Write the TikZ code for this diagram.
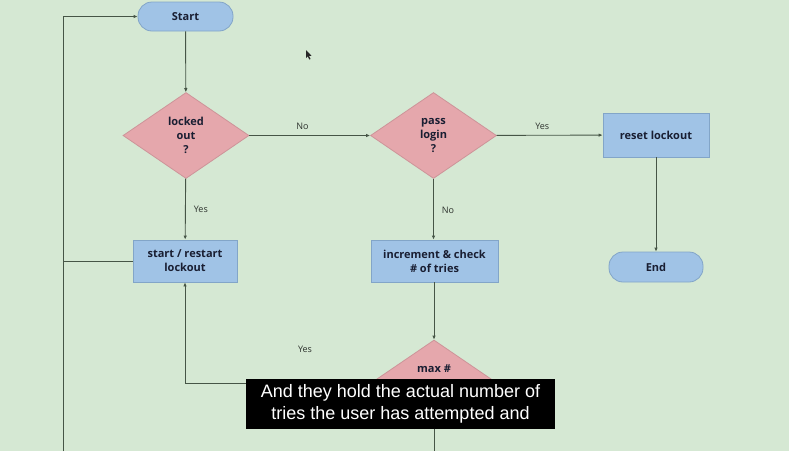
\documentclass[tikz,border=0pt]{standalone}
\usepackage{fontspec}
\setmainfont{Open Sans}
\newfontfamily\capfont{Liberation Sans}
\usetikzlibrary{shapes.geometric,arrows.meta}
\definecolor{bg}{RGB}{213,232,211}
\definecolor{boxfill}{RGB}{160,195,230}
\definecolor{boxline}{RGB}{130,165,200}
\definecolor{dfill}{RGB}{229,167,172}
\definecolor{dline}{RGB}{205,148,153}
\definecolor{conn}{RGB}{70,85,70}
\definecolor{txt}{RGB}{25,30,50}
\definecolor{lbl}{RGB}{45,50,45}
\tikzset{
  flowbox/.style={rectangle,draw=boxline,fill=boxfill,line width=0.8pt,inner sep=0pt,
    align=center,font=\fontsize{11}{14}\selectfont\bfseries,text=txt},
  terminal/.style={flowbox,rounded corners=14pt},
  decision/.style={diamond,draw=dline,fill=dfill,line width=0.8pt,inner sep=0pt,
    minimum width=126pt,minimum height=86pt,align=center,
    font=\fontsize{11}{14}\selectfont\bfseries,text=txt},
  conn/.style={draw=conn,line width=0.9pt},
  arr/.style={conn,-{Latex[length=4pt,width=3.5pt]}},
  lab/.style={font=\fontsize{9}{11}\selectfont,text=lbl,inner sep=0pt},
  caption/.style={fill=black,text=white,align=center,inner sep=0pt,
    minimum width=309pt,minimum height=50pt,font=\capfont\fontsize{18}{22}\selectfont}
}
\begin{document}
\begin{tikzpicture}[x=1pt,y=-1pt]
\fill[bg] (0,0) rectangle (789,451);
\useasboundingbox (0,0) rectangle (789,451);

\node[terminal,minimum width=95pt,minimum height=29pt] (start) at (185.5,16.5) {Start};
\node[decision] (locked) at (186,135.5) {locked\\out\\?};
\node[decision] (pass) at (433.5,135.5) {pass\\login\\?};
\node[flowbox,minimum width=106pt,minimum height=44pt] (reset) at (656,135) {reset lockout};
\node[terminal,minimum width=94pt,minimum height=30pt] (end) at (656,267) {End};
\node[flowbox,minimum width=104pt,minimum height=42pt] (restart) at (185,261) {start / restart\\lockout};
\node[flowbox,minimum width=127pt,minimum height=42pt] (incr) at (434.5,261) {increment \& check\\\# of tries};
\node[decision] (max) at (434,383) {};
\node[font=\fontsize{11}{14}\selectfont\bfseries,text=txt,inner sep=0pt] (maxtxt) at (434,369) {max \#};

\coordinate (loopbot) at (63.5,451);
\coordinate (maxbot) at (434,451);

\draw[arr] (start) -- (locked);
\draw[arr] (locked) -- (pass) node[lab,pos=0.44,above=5pt] {No};
\draw[arr] (pass) -- (reset) node[lab,pos=0.43,above=5pt] {Yes};
\draw[arr] (reset) -- (end);
\draw[arr] (locked) -- (restart) node[lab,pos=0.5,right=8pt] {Yes};
\draw[arr] (pass.south) -- (incr.north -| pass.south) node[lab,pos=0.52,right=8pt] {No};
\draw[arr] (incr.south -| max.north) -- (max.north);
\draw[arr] (max.west) -| (restart.south);
\node[lab] (yesmax) at (305,349) {Yes};
\draw[conn] (max.south) -- (maxbot);
\draw[arr] (loopbot) |- (start.west);
\draw[conn] (restart.west) -- (restart.west -| loopbot);

% mouse cursor
\fill[black!85] (306,50) -- (306,58) -- (307.8,56.3) -- (309.3,59.5) -- (310.5,59) -- (309,55.8) -- (311.5,55.8) -- cycle;

\node[caption] (cap) at (400.5,404) {And they hold the actual number of\\tries the user has attempted and};
\end{tikzpicture}
\end{document}
